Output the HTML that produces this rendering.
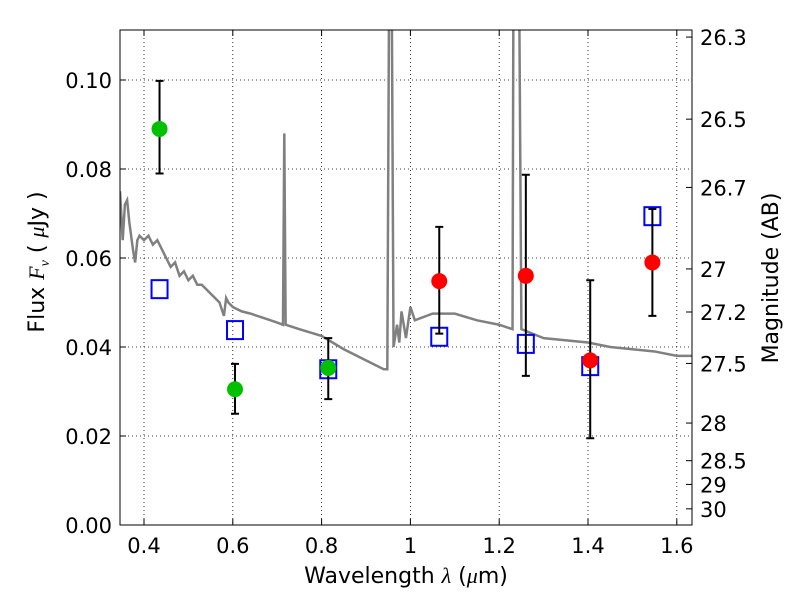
<!DOCTYPE html>
<html><head><meta charset="utf-8"><style>
body{margin:0;background:#fff}
text{font-family:"DejaVu Sans","Liberation Sans",sans-serif}
</style></head><body>
<svg id="chart" width="800" height="600" xmlns="http://www.w3.org/2000/svg"></svg>
<script>
const specX=[0.346,0.352,0.357,0.362,0.367,0.375,0.38,0.385,0.39,0.40,0.41,0.42,0.43,0.44,0.45,0.46,0.47,0.48,0.49,0.50,0.51,0.52,0.53,0.54,0.55,0.56,0.57,0.58,0.585,0.59,0.60,0.62,0.64,0.67,0.70,0.713,0.716,0.719,0.75,0.8,0.85,0.9,0.94,0.948,0.952,0.958,0.962,0.97,0.975,0.98,0.99,1.0,1.01,1.05,1.1,1.15,1.2,1.23,1.232,1.245,1.25,1.3,1.4,1.45,1.5,1.55,1.6,1.634];
const specY=[0.075,0.064,0.072,0.073,0.068,0.062,0.059,0.064,0.065,0.064,0.065,0.063,0.064,0.062,0.060,0.058,0.059,0.056,0.057,0.055,0.056,0.054,0.054,0.053,0.052,0.051,0.050,0.047,0.051,0.050,0.049,0.048,0.0475,0.0465,0.0455,0.045,0.088,0.045,0.044,0.0425,0.0395,0.037,0.035,0.035,0.12,0.12,0.040,0.045,0.041,0.048,0.042,0.049,0.046,0.0475,0.0475,0.046,0.045,0.044,0.12,0.12,0.044,0.042,0.041,0.040,0.0395,0.039,0.038,0.038];
const greenX=[0.435,0.605,0.815], greenY=[0.089,0.0305,0.0353], greenLo=[0.079,0.025,0.0283], greenHi=[0.0998,0.0362,0.042];
const redX=[1.065,1.26,1.405,1.545], redY=[0.0548,0.056,0.037,0.059], redLo=[0.043,0.0335,0.0195,0.047], redHi=[0.067,0.0787,0.055,0.071];
const modelX=[0.435,0.605,0.815,1.065,1.26,1.405,1.545], modelY=[0.053,0.0438,0.035,0.0423,0.0407,0.0357,0.0694];
const xTicks=[0.4,0.6,0.8,1,1.2,1.4,1.6], xLabels=["0.4","0.6","0.8","1","1.2","1.4","1.6"];
const yTicks=[0,0.02,0.04,0.06,0.08,0.10], yLabels=["0.00","0.02","0.04","0.06","0.08","0.10"];
const magTicks=[26.3,26.5,26.7,27,27.2,27.5,28,28.5,29,30], magLabels=["26.3","26.5","26.7","27","27.2","27.5","28","28.5","29","30"];

const L=120,R=692,T=30,B=525;
const X=v=>144+(v-0.4)*444;
const Y=v=>525-v*4450;
const svg=document.getElementById('chart');
const NS="http://www.w3.org/2000/svg";
function mk(tag,attrs,parent){const e=document.createElementNS(NS,tag);for(const k in attrs)e.setAttribute(k,attrs[k]);(parent||svg).appendChild(e);return e;}

const defs=mk('defs',{});
const cp=mk('clipPath',{id:'clip'},defs);mk('rect',{x:L,y:T,width:R-L,height:B-T},cp);

xTicks.forEach((v,i)=>{
  const g=mk('line',{x1:X(v),x2:X(v),y1:T,y2:B,stroke:'#000','stroke-width':0.8,'stroke-dasharray':'1,3'});
  
  mk('line',{x1:X(v),x2:X(v),y1:B,y2:B-6,stroke:'#000'});mk('line',{x1:X(v),x2:X(v),y1:T,y2:T+6,stroke:'#000'});
  const t=mk('text',{x:X(v),y:553,'font-size':21,'text-anchor':'middle'});t.textContent=xLabels[i];
  
});
yTicks.forEach((v,i)=>{
  const g=mk('line',{x1:L,x2:R,y1:Y(v),y2:Y(v),stroke:'#000','stroke-width':0.8,'stroke-dasharray':'1,3'});
  
  mk('line',{x1:L,x2:L+6,y1:Y(v),y2:Y(v),stroke:'#000'});
  const t=mk('text',{x:112,y:Y(v)+8,'font-size':21,'text-anchor':'end'});t.textContent=yLabels[i];
  
});
magTicks.forEach((m,i)=>{
  const f=Math.pow(10,(23.9-m)/2.5);const y=Y(f);
  mk('line',{x1:R,x2:R-6,y1:y,y2:y,stroke:'#000'});
  const t=mk('text',{x:700,y:y+8,'font-size':21});t.textContent=magLabels[i];
  
});

const sp=mk('polyline',{points:specX.map((v,i)=>X(v)+','+Y(specY[i])).join(' '),fill:'none',stroke:'#808080','stroke-width':2.5,'clip-path':'url(#clip)'});


modelX.forEach((v,i)=>{
  const r=mk('rect',{x:X(v)-8,y:Y(modelY[i])-9,width:16,height:18,fill:'none',stroke:'#0000ff','stroke-width':2});
  
});
function errs(xs,lo,hi){xs.forEach((v,i)=>{
  const e=mk('path',{d:`M${X(v)},${Y(lo[i])}V${Y(hi[i])}M${X(v)-4},${Y(lo[i])}h8M${X(v)-4},${Y(hi[i])}h8`,stroke:'#000','stroke-width':2,fill:'none'});
  
});}
errs(greenX,greenLo,greenHi);errs(redX,redLo,redHi);
greenX.forEach((v,i)=>{const c=mk('circle',{cx:X(v),cy:Y(greenY[i]),r:8,fill:'#00c000'});
  });
redX.forEach((v,i)=>{const c=mk('circle',{cx:X(v),cy:Y(redY[i]),r:8,fill:'#ff0000'});
  });

const fr=mk('rect',{x:L,y:T,width:R-L,height:B-T,fill:'none',stroke:'#000','stroke-width':1});


let t=mk('text',{x:406,y:583,'font-size':22,'text-anchor':'middle'});
t.innerHTML='Wavelength  <tspan font-style="italic" font-family="Liberation Serif">λ</tspan> (<tspan font-style="italic" font-family="Liberation Serif">μ</tspan>m)';

t=mk('text',{x:0,y:0,'font-size':22,'text-anchor':'middle',transform:'translate(44,262) rotate(-90)'});
t.innerHTML='Flux  <tspan font-style="italic" font-family="Liberation Serif">F</tspan><tspan font-style="italic" font-family="Liberation Serif" font-size="14" dy="5">ν</tspan><tspan dy="-5">  (</tspan> <tspan font-style="italic" font-family="Liberation Serif">μ</tspan>Jy )';

t=mk('text',{x:0,y:0,'font-size':22,'text-anchor':'middle',transform:'translate(778,278) rotate(-90)'});
t.textContent='Magnitude (AB)';

</script>
</body></html>
